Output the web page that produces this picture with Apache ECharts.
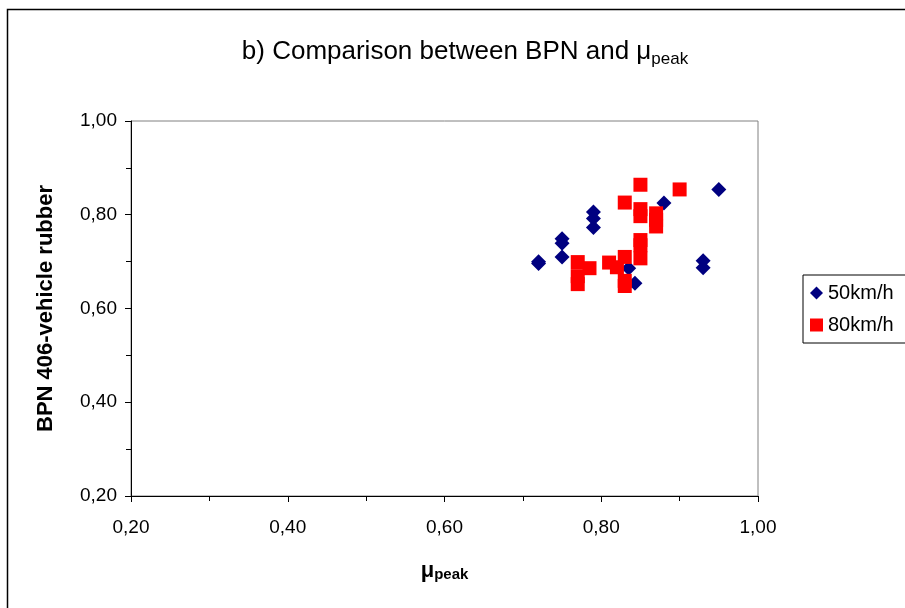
<!DOCTYPE html>
<html>
<head>
<meta charset="utf-8">
<script src="https://cdn.jsdelivr.net/npm/echarts@6/dist/echarts.min.js"></script>
<style>
  html, body { margin: 0; padding: 0; background: #fff; }
  #main { width: 905px; height: 608px; }
</style>
</head>
<body>
<div id="main"></div>
<script>
// μpeak (x) and BPN (y) readings per speed
var mu50  = [0.72, 0.72, 0.75, 0.75, 0.75, 0.79, 0.79, 0.79, 0.88, 0.95, 0.93, 0.93, 0.835, 0.843];
var bpn50 = [0.700, 0.696, 0.749, 0.739, 0.710, 0.806, 0.792, 0.773, 0.825, 0.854, 0.702, 0.687, 0.686, 0.654];

var mu80  = [0.85, 0.90, 0.83, 0.85, 0.85, 0.87, 0.87, 0.87, 0.85, 0.85, 0.85, 0.83, 0.81, 0.82, 0.83, 0.83, 0.77, 0.785, 0.77, 0.77];
var bpn80 = [0.864, 0.854, 0.826, 0.812, 0.797, 0.803, 0.789, 0.775, 0.746, 0.735, 0.707, 0.710, 0.698, 0.688, 0.659, 0.648, 0.699, 0.686, 0.669, 0.652];

var seriesNames = ['50km/h', '80km/h'];
var axisMin = 0.2, axisMax = 1.0, axisStep = 0.2;

function pairs(xs, ys) {
  var out = [];
  for (var i = 0; i < xs.length; i++) out.push([xs[i], ys[i]]);
  return out;
}

// 0.2 -> "0,20"
function comma(v) {
  return v.toFixed(2).replace('.', ',');
}

var myChart = echarts.init(document.getElementById('main'));
var font = 'Arial, "Liberation Sans", sans-serif';

var option = {
  backgroundColor: '#fff',
  animation: false,
  textStyle: { fontFamily: font, color: '#000' },
  title: {
    text: '{a|b) Comparison between BPN and μ}{s|peak}',
    left: 460, top: 30, textAlign: 'center',
    textStyle: {
      rich: {
        a: { fontSize: 26, fontFamily: font, color: '#000', fontWeight: 'normal' },
        s: { fontSize: 17, fontFamily: font, color: '#000', fontWeight: 'normal', padding: [16, 0, 0, 0] }
      }
    }
  },
  legend: {
    orient: 'vertical', left: 803, top: 275,
    padding: [8, 30, 8, 7], itemGap: 12,
    itemWidth: 13, itemHeight: 13, itemTextGap: 5,
    borderColor: '#000', borderWidth: 1,
    textStyle: { fontSize: 20, fontFamily: font, color: '#000' },
    data: [{ name: seriesNames[0], icon: 'diamond' }, { name: seriesNames[1], icon: 'rect' }]
  },
  grid: { show: true, left: 131, top: 121, width: 627, height: 375, borderColor: '#808080', borderWidth: 1, containLabel: false },
  xAxis: {
    type: 'value', min: axisMin, max: axisMax, interval: axisStep,
    name: '{m|μ}{p|peak}', nameLocation: 'middle', nameGap: 63,
    nameTextStyle: {
      rich: {
        m: { fontSize: 22, fontWeight: 'bold', fontFamily: font, color: '#000' },
        p: { fontSize: 15, fontWeight: 'bold', fontFamily: font, color: '#000', padding: [8, 0, 0, 0] }
      }
    },
    axisLine: { show: true, lineStyle: { color: '#000', width: 1 } },
    axisTick: { show: true, inside: false, length: 6, lineStyle: { color: '#000' } },
    minorTick: { show: true, splitNumber: 2, length: 5, lineStyle: { color: '#000' } },
    splitLine: { show: false },
    axisLabel: { fontSize: 19, color: '#000', margin: 22, formatter: comma }
  },
  yAxis: {
    type: 'value', min: axisMin, max: axisMax, interval: axisStep,
    name: 'BPN 406-vehicle rubber', nameLocation: 'middle', nameGap: 74,
    nameTextStyle: { fontSize: 22, fontWeight: 'bold', fontFamily: font, color: '#000' },
    axisLine: { show: true, lineStyle: { color: '#000', width: 1 } },
    axisTick: { show: true, inside: false, length: 6, lineStyle: { color: '#000' } },
    minorTick: { show: true, splitNumber: 2, length: 5, lineStyle: { color: '#000' } },
    splitLine: { show: false },
    axisLabel: { fontSize: 19, color: '#000', margin: 14, formatter: comma }
  },
  graphic: [{
    type: 'rect', silent: true, z: -1,
    shape: { x: 7.5, y: 9.5, width: 1000, height: 1000 },
    style: { fill: 'none', stroke: '#000', lineWidth: 1.5 }
  }],
  series: [
    {
      name: seriesNames[0], type: 'scatter', symbol: 'diamond', symbolSize: [15, 15],
      itemStyle: { color: '#000080', opacity: 1 },
      data: pairs(mu50, bpn50)
    },
    {
      name: seriesNames[1], type: 'scatter', symbol: 'rect', symbolSize: [14, 14],
      itemStyle: { color: '#ff0000', opacity: 1 },
      data: pairs(mu80, bpn80)
    }
  ]
};
myChart.setOption(option);
</script>
</body>
</html>
